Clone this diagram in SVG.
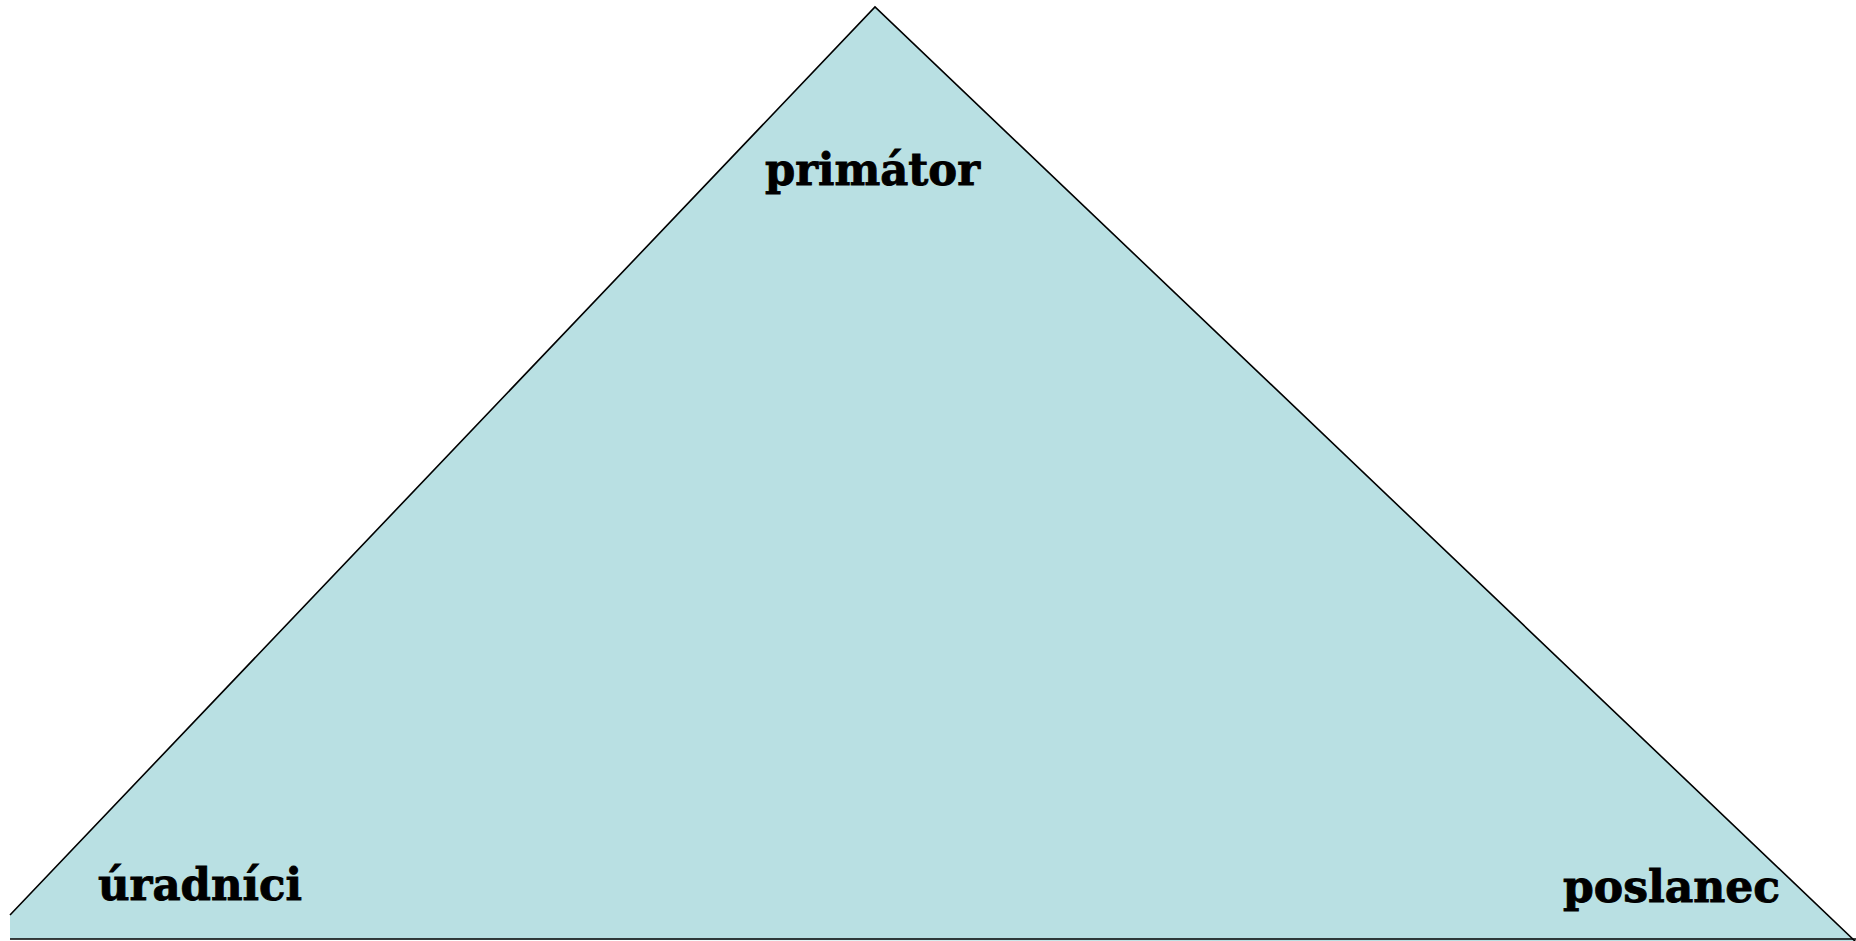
<svg xmlns="http://www.w3.org/2000/svg" width="1856" height="941" viewBox="0 0 1856 941">
<style>
.lbl{font-family:"DejaVu Serif","Liberation Serif",serif;font-weight:bold;font-size:44px;fill:#000;stroke:#000;stroke-width:0.9}
.edge{stroke:#000;stroke-width:1.6;fill:none}
</style>
<rect width="1856" height="941" fill="#fff"/>
<g id="triangle">
<polygon points="875,7 1856,942 10,939 10,915" fill="#B9E0E3"/>
<polyline class="edge" points="10,915 875,7 1856,942"/>
<line class="edge" x1="10" y1="939" x2="1856" y2="939"/>
</g>
<g id="primator"><text class="lbl" x="765" y="185" textLength="215" lengthAdjust="spacingAndGlyphs">primátor</text></g>
<g id="uradnici"><text class="lbl" x="98" y="900" textLength="204" lengthAdjust="spacingAndGlyphs">úradníci</text></g>
<g id="poslanec"><text class="lbl" x="1563" y="902" textLength="217" lengthAdjust="spacingAndGlyphs">poslanec</text></g>
<g id="connectors"></g>
</svg>
